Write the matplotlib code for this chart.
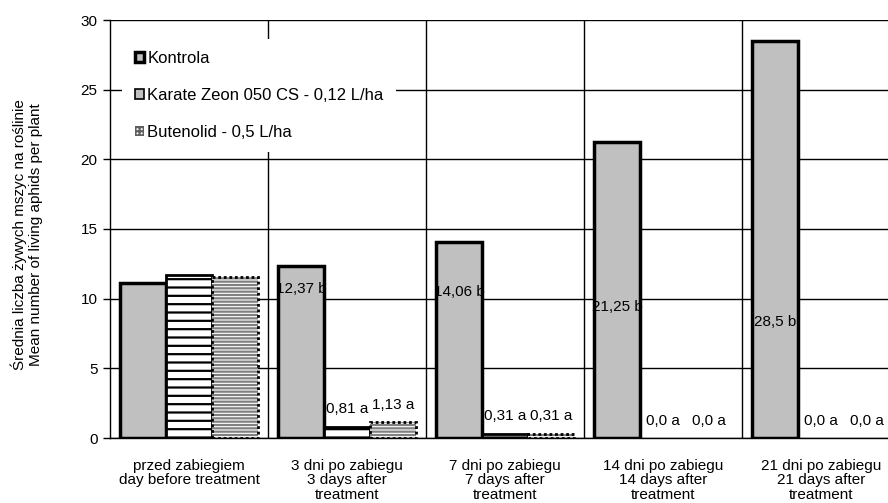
import matplotlib
matplotlib.use("Agg")
import matplotlib.pyplot as plt
from matplotlib.patches import Patch
import numpy as np

plt.rcParams['font.family'] = ['Liberation Sans', 'DejaVu Sans']
plt.rcParams['hatch.linewidth'] = 1.6

categories = ["przed zabiegiem\nday before treatment",
              "3 dni po zabiegu\n3 days after\ntreatment",
              "7 dni po zabiegu\n7 days after\ntreatment",
              "14 dni po zabiegu\n14 days after\ntreatment",
              "21 dni po zabiegu\n21 days after\ntreatment"]
series_names = ["Kontrola", "Karate Zeon 050 CS - 0,12 L/ha", "Butenolid - 0,5 L/ha"]
kontrola = [11.15, 12.37, 14.06, 21.25, 28.5]
karate = [11.7, 0.81, 0.31, 0.0, 0.0]
butenolid = [11.55, 1.13, 0.31, 0.0, 0.0]

# data labels (None = no label)
labels_kontrola = [None, "12,37 b", "14,06 b", "21,25 b", "28,5 b"]
labels_karate = [None, "0,81 a", "0,31 a", "0,0 a", "0,0 a"]
labels_butenolid = [None, "1,13 a", "0,31 a", "0,0 a", "0,0 a"]

fig = plt.figure(figsize=(8.88, 5.03), dpi=100)
ax = fig.add_axes([110/888, 65/503, 790/888, 418/503])

n = len(categories)
x = np.arange(n)
w = 0.29
gray = '#c0c0c0'

def ec_for(vals, c):
    return [c if v > 0 else 'none' for v in vals]

# Kontrola
ax.bar(x - w, kontrola, w, color=gray, edgecolor=ec_for(kontrola, 'black'), linewidth=2.5, zorder=3)
# Karate
ax.bar(x, karate, w, color='white', edgecolor=ec_for(karate, 'black'), hatch='--', linewidth=2.0, zorder=3)
# Butenolid: gray stripes + dotted border
ax.bar(x + w, butenolid, w, color='white', edgecolor='#808080', hatch='-----', linewidth=0, zorder=3)
ax.bar(x + w, butenolid, w, color='none', edgecolor=ec_for(butenolid, 'black'), linewidth=2.0,
       linestyle=(0, (1, 1)), zorder=4)

# data labels
fs = 11
kon_label_y = [None, 10.7, 10.5, 9.4, 8.3]
kar_label_y = [None, 2.1, 1.6, 1.2, 1.2]
but_label_y = [None, 2.35, 1.6, 1.2, 1.2]
for i in range(n):
    if labels_kontrola[i]:
        ax.text(x[i] - w, kon_label_y[i], labels_kontrola[i], ha='center', va='center', fontsize=fs, zorder=5)
    if labels_karate[i]:
        ax.text(x[i], kar_label_y[i], labels_karate[i], ha='center', va='center', fontsize=fs, zorder=5)
    if labels_butenolid[i]:
        ax.text(x[i] + w, but_label_y[i], labels_butenolid[i], ha='center', va='center', fontsize=fs, zorder=5)

ax.set_xlim(-0.5, n - 0.5)
ax.set_ylim(0, 30)
ax.set_yticks(np.arange(0, 31, 5))
ax.set_yticklabels([str(v) for v in range(0, 31, 5)], fontsize=fs)
ax.tick_params(axis='y', direction='out', length=5, width=1, pad=4)
ax.set_xticks(x)
ax.set_xticklabels(categories, fontsize=fs, linespacing=1.05)
ax.tick_params(axis='x', length=0, pad=15)

ax.yaxis.grid(True, color='black', linewidth=1, zorder=0)
ax.set_axisbelow(True)
for b in np.arange(0.5, n - 0.5, 1):
    ax.axvline(b, color='black', linewidth=1, zorder=1)

for s in ['top', 'right']:
    ax.spines[s].set_visible(False)
ax.spines['left'].set_linewidth(1)
ax.spines['bottom'].set_linewidth(1)

handles = [Patch(facecolor=gray, edgecolor='black', linewidth=2.5),
           Patch(facecolor=gray, edgecolor='black', linewidth=1.2),
           Patch(facecolor='white', edgecolor='#606060', hatch='++++', linewidth=0)]
leg = ax.legend(handles, series_names, loc='upper left', bbox_to_anchor=(0.005, 0.975),
                fontsize=12, frameon=True, fancybox=False, edgecolor='none', facecolor='white',
                framealpha=1, handlelength=0.55, handleheight=0.55, handletextpad=0.2,
                labelspacing=1.3, borderpad=0.75)
leg.set_zorder(6)

fig.text(27/888, 1 - 235/503, "Średnia liczba żywych mszyc na roślinie\nMean number of living aphids per plant",
         rotation=90, ha='center', va='center', fontsize=fs, linespacing=1.2)

fig.savefig("out.png", dpi=100)
